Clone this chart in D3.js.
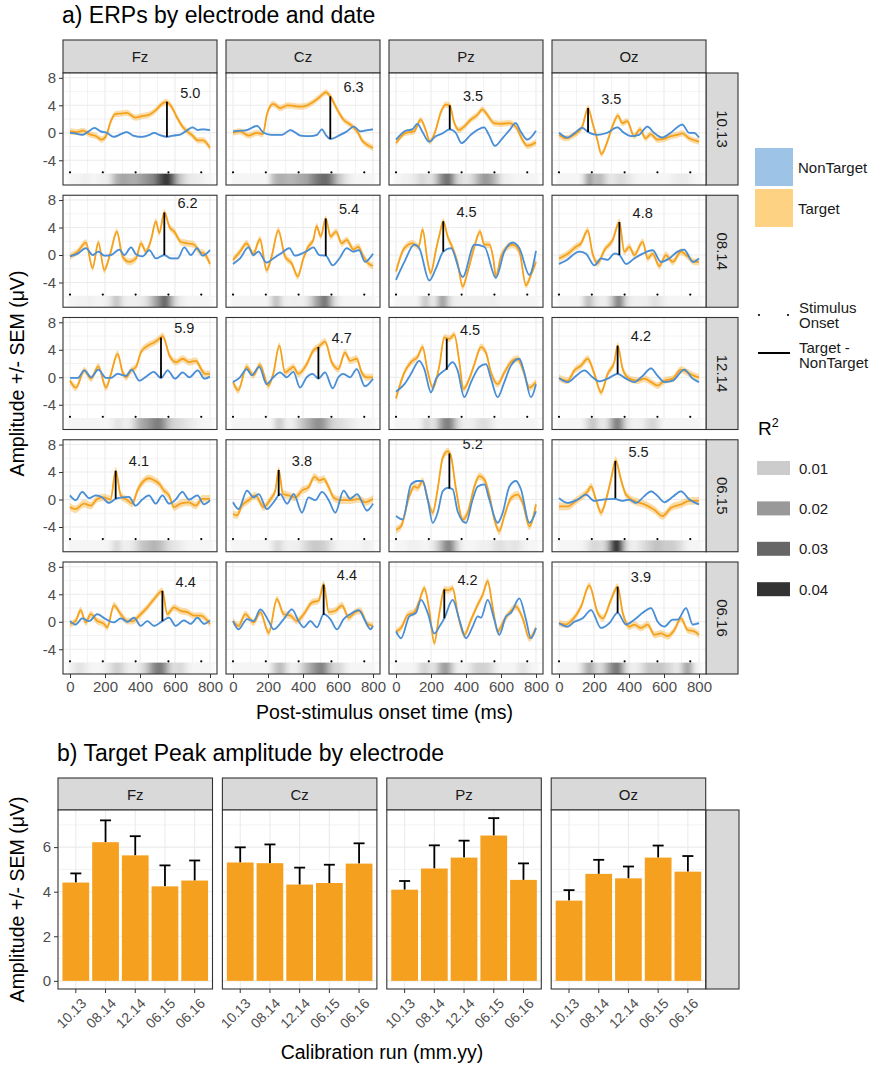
<!DOCTYPE html>
<html><head><meta charset="utf-8">
<script src="https://cdn.jsdelivr.net/npm/d3@7"></script>
<style>
body{margin:0;background:#fff}
svg{display:block}
text{font-family:"Liberation Sans",Arial,Helvetica,sans-serif}
</style>
</head><body>
<svg id="chart" width="875" height="1067"></svg>
<script>
// ---------------- DATA ----------------
const electrodes = ["Fz","Cz","Pz","Oz"];
const dates = ["10.13","08.14","12.14","06.15","06.16"];
const timeTicks = [0,200,400,600,800];
const timeMinorTicks = [100,300,500,700];
const ampTicks = [-4,0,4,8];
const ampMinorTicks = [-6,-2,2,6];
const stimulusOnsets = [0,187.5,375,562.5,750];
const r2Times = [0,25,50,75,100,125,150,175,200,225,250,275,300,325,350,375,400,425,450,475,500,525,550,575,600,625,650,675,700,725,750,775,800];
const r2LegendValues = [0.01,0.02,0.03,0.04];
const semTargetByDate = [0.45,0.5,0.5,0.55,0.5];
const semNonTarget = 0.15;

// Row 10.13
const tgt_Fz_1013 = [[0,0.2],[40,0.1],[75,0.3],[110,-0.2],[150,-0.5],[180,-1.0],[205,-0.5],[232,1.6],[258,2.7],[290,2.8],[325,2.9],[375,2.2],[405,2.4],[450,2.6],[490,3.3],[525,4.2],[550,4.5],[580,3.8],[610,2.3],[640,1.0],[670,0.2],[700,-0.4],[730,-1.1],[760,-1.1],[800,-2.2]];
const non_Fz_1013 = [[0,0.0],[30,-0.1],[70,-0.3],[100,0.1],[140,0.7],[175,0.2],[210,0.0],[250,-0.6],[290,-0.2],[325,0.1],[360,-0.4],[410,-0.6],[455,-0.3],[480,0.0],[510,-0.3],[554,-0.6],[590,-0.4],[625,-0.3],[660,0.2],[700,0.8],[730,0.4],[760,0.5],[800,0.4]];
const tgt_Cz_1013 = [[0,0.0],[40,0.2],[90,-0.4],[137,0.0],[170,-0.2],[195,2.8],[230,4.2],[270,3.6],[310,4.0],[350,3.9],[385,3.8],[425,4.0],[460,4.5],[500,5.3],[530,5.9],[556,5.3],[595,3.4],[632,1.9],[670,1.2],[710,0.2],[740,-1.2],[770,-1.8],[800,-2.2]];
const non_Cz_1013 = [[0,0.2],[50,0.3],[80,0.4],[137,1.0],[175,0.0],[220,-0.3],[280,-0.3],[328,0.4],[385,-0.4],[440,-0.5],[480,-0.3],[508,0.5],[530,-0.3],[556,-0.9],[613,-0.3],[650,0.2],[690,0.9],[728,0.2],[770,0.4],[800,0.5]];
const tgt_Pz_1013 = [[0,-1.5],[55,0.0],[103,0.2],[141,1.9],[170,0.4],[194,-1.3],[227,0.4],[255,2.9],[284,4.1],[307,4.0],[331,1.6],[360,0.4],[389,0.9],[427,1.9],[465,2.6],[493,3.4],[522,2.6],[560,1.4],[598,1.3],[646,1.4],[684,0.9],[722,-1.0],[750,-1.9],[800,-1.4]];
const non_Pz_1013 = [[0,-1.0],[55,0.3],[93,0.5],[122,1.3],[150,0.2],[189,-1.3],[227,-0.5],[265,-0.1],[307,0.5],[341,0.0],[375,-1.5],[427,-0.3],[465,0.4],[503,0.8],[531,-0.3],[565,-1.9],[608,-0.8],[646,0.3],[684,1.4],[712,0.2],[750,-1.0],[800,0.3]];
const tgt_Oz_1013 = [[0,-0.3],[38,-0.8],[86,-0.3],[133,0.9],[166,3.6],[194,1.2],[219,-1.0],[242,-3.1],[276,-1.3],[305,0.9],[337,2.5],[362,1.4],[390,1.7],[429,-0.5],[463,0.5],[495,-0.8],[524,-0.2],[562,-1.0],[600,-0.9],[638,-0.5],[676,-0.3],[705,-0.1],[743,-0.8],[800,-1.3]];
const non_Oz_1013 = [[0,0.0],[48,-0.7],[86,-0.1],[133,0.7],[166,0.1],[219,-0.3],[276,0.0],[333,0.8],[371,0.0],[410,-0.5],[457,-0.3],[505,0.9],[543,0.0],[590,-0.7],[638,0.0],[705,1.2],[743,0.0],[771,0.0],[800,-0.7]];
// Row 08.14
const tgt_Fz_0814 = [[0,-0.2],[44,0.5],[91,1.8],[129,-1.9],[162,1.8],[196,-2.2],[230,0.2],[268,3.4],[300,-0.2],[339,-1.0],[377,-0.5],[406,1.7],[434,0.5],[463,2.2],[491,4.9],[510,3.2],[539,6.2],[568,4.1],[596,3.4],[634,1.9],[672,1.7],[710,1.5],[739,0.5],[768,0.2],[800,-1.3]];
const non_Fz_0814 = [[0,-0.2],[44,0.2],[91,1.0],[130,0.0],[162,0.5],[196,-0.1],[234,0.0],[282,0.8],[310,0.0],[349,1.1],[377,0.1],[415,-0.2],[453,0.7],[491,-0.5],[539,0.0],[577,-0.5],[615,-0.5],[653,1.1],[691,0.0],[726,1.0],[758,-0.1],[800,0.7]];
const tgt_Cz_0814 = [[0,-0.7],[40,0.5],[78,1.7],[116,0.2],[154,2.3],[192,-2.2],[221,-0.2],[259,3.6],[297,-0.2],[335,-1.2],[370,-3.1],[402,-0.5],[430,1.2],[459,2.2],[478,4.2],[501,2.7],[530,5.3],[558,2.7],[589,3.4],[621,1.7],[650,2.2],[688,0.8],[716,1.2],[745,-0.2],[773,-1.2],[800,-1.6]];
const non_Cz_0814 = [[0,-1.3],[40,-0.5],[88,1.1],[116,0.0],[145,0.5],[192,-1.1],[230,-0.5],[278,0.3],[322,1.0],[354,-0.1],[392,0.2],[430,0.7],[459,1.1],[493,0.0],[530,-0.1],[570,-1.5],[608,-0.5],[650,1.0],[688,0.5],[720,0.7],[754,-1.0],[800,0.2]];
const tgt_Pz_0814 = [[0,-2.4],[48,1.0],[95,1.7],[130,1.2],[152,3.7],[181,-1.0],[198,-2.6],[229,0.8],[248,2.9],[270,4.9],[295,2.7],[324,1.0],[352,-1.2],[381,-4.6],[410,-2.4],[448,1.2],[480,3.4],[505,1.5],[533,1.5],[556,-0.5],[571,-3.1],[600,-0.2],[629,1.0],[667,1.5],[705,0.5],[743,-4.4],[771,-2.9],[800,-1.0]];
const non_Pz_0814 = [[0,-3.6],[48,-1.0],[105,1.5],[133,1.0],[190,-3.7],[229,-1.9],[270,0.5],[314,1.0],[381,-3.2],[448,1.5],[505,1.2],[571,-3.3],[619,0.5],[667,1.8],[705,1.0],[762,-2.9],[800,0.6]];
const tgt_Oz_0814 = [[0,-0.5],[50,0.2],[97,1.2],[126,1.7],[164,3.6],[192,0.2],[221,-1.2],[259,0.7],[307,2.2],[345,4.8],[373,0.5],[402,1.2],[430,0.0],[478,1.9],[507,-0.5],[535,0.2],[573,-1.6],[611,0.0],[650,-1.0],[697,0.5],[735,-0.2],[773,-1.0],[800,-1.0]];
const non_Oz_0814 = [[0,-1.3],[40,-0.8],[116,0.5],[154,0.2],[202,-1.5],[240,-0.5],[278,-0.7],[316,0.2],[345,0.0],[383,-1.3],[430,-0.5],[478,0.2],[535,0.7],[583,-1.0],[630,-0.5],[678,0.5],[716,0.8],[764,-1.0],[800,-0.5]];
// Row 12.14
const tgt_Fz_1214 = [[0,-0.5],[34,-1.5],[82,1.0],[120,-0.2],[162,1.6],[206,-1.5],[234,0.5],[272,3.4],[301,0.7],[320,0.0],[349,1.0],[377,1.5],[406,3.7],[444,4.6],[482,5.1],[505,5.5],[530,6.0],[568,3.2],[606,2.2],[644,2.7],[682,2.2],[720,2.4],[749,1.2],[771,0.5],[800,0.5]];
const non_Fz_1214 = [[0,-0.1],[44,-0.1],[82,1.0],[120,0.0],[162,1.1],[206,-0.1],[234,-0.1],[272,0.5],[320,0.2],[352,1.1],[396,-0.5],[440,0.2],[478,0.8],[520,-0.1],[558,1.0],[600,-0.2],[644,0.7],[682,0.0],[730,1.0],[768,-0.2],[800,0.1]];
const tgt_Cz_1214 = [[0,-0.7],[30,-1.9],[78,1.5],[116,0.3],[154,1.8],[202,-1.2],[230,0.5],[265,4.6],[297,0.7],[326,1.2],[345,1.5],[373,0.5],[421,1.9],[459,3.9],[488,4.4],[526,5.2],[564,2.2],[602,1.2],[640,3.6],[669,2.4],[707,2.7],[735,0.7],[764,0.0],[800,0.0]];
const non_Cz_1214 = [[0,-0.7],[40,0.0],[78,1.2],[107,0.3],[150,1.5],[192,-1.0],[230,0.0],[269,0.7],[307,0.0],[345,0.8],[383,-1.5],[421,0.0],[455,0.5],[488,-0.2],[526,0.7],[570,-1.6],[602,0.0],[630,0.5],[669,0.0],[707,1.2],[754,-1.3],[800,-0.2]];
const tgt_Pz_1214 = [[0,-3.1],[48,0.7],[86,2.2],[124,3.0],[152,4.4],[180,1.0],[210,-1.5],[248,1.7],[276,5.8],[305,5.6],[333,6.2],[362,2.2],[385,-1.7],[419,-0.2],[448,1.9],[486,4.4],[514,3.6],[543,0.7],[581,-1.0],[619,0.7],[657,2.2],[695,2.7],[724,1.2],[762,-1.5],[800,-0.7]];
const non_Pz_1214 = [[0,-2.1],[48,-1.0],[86,0.5],[133,2.4],[162,1.2],[200,-2.2],[229,-0.2],[286,1.2],[324,2.2],[352,1.0],[390,-2.9],[429,-0.7],[476,1.5],[514,1.9],[543,-0.2],[581,-2.9],[619,-0.7],[657,1.7],[705,2.7],[733,0.7],[771,-2.9],[800,-1.0]];
const tgt_Oz_1214 = [[0,-0.1],[50,-0.5],[88,1.0],[126,1.7],[164,2.7],[202,0.5],[240,-2.2],[278,0.5],[316,2.2],[335,4.6],[364,1.2],[402,-0.2],[450,-0.5],[488,-0.2],[526,-0.7],[564,-1.2],[602,-0.5],[650,-0.2],[697,1.1],[735,0.7],[773,0.2],[800,0.0]];
const non_Oz_1214 = [[0,-0.1],[50,-0.7],[97,0.2],[145,1.0],[192,0.0],[230,-0.6],[278,-0.2],[335,0.5],[383,-0.2],[430,-0.7],[478,0.2],[526,1.3],[564,0.2],[602,-0.7],[650,-0.5],[716,1.1],[764,-0.2],[800,-0.7]];
// Row 06.15
const tgt_Fz_0615 = [[0,-1.1],[32,-1.4],[80,-0.6],[118,-0.9],[156,0.1],[194,0.3],[232,0.0],[261,4.2],[290,0.6],[328,-0.1],[356,-0.6],[385,1.3],[414,2.5],[451,3.1],[480,2.8],[509,2.3],[537,1.3],[566,0.6],[594,-1.1],[632,-0.6],[680,-0.4],[718,-0.9],[756,0.1],[800,0.1]];
const non_Fz_0615 = [[0,0.6],[32,-0.1],[70,1.1],[109,0.2],[147,0.6],[185,0.3],[223,-0.5],[261,0.1],[299,0.3],[337,0.4],[375,-0.9],[413,0.0],[451,0.6],[490,-0.6],[528,0.6],[566,-0.6],[604,0.0],[642,1.1],[680,0.0],[728,0.6],[766,-0.7],[800,-0.1]];
const tgt_Cz_0615 = [[0,-2.1],[23,-2.3],[51,-0.9],[90,-0.1],[128,0.6],[175,-1.1],[213,0.0],[242,1.3],[261,4.3],[286,0.8],[318,0.6],[356,0.3],[394,1.3],[432,1.8],[465,3.3],[495,2.8],[518,3.0],[547,1.8],[575,0.3],[613,-0.1],[670,-0.1],[718,0.1],[756,-0.4],[800,0.1]];
const non_Cz_0615 = [[0,-0.4],[32,-1.4],[80,1.3],[118,0.3],[147,0.8],[194,-1.4],[232,-0.4],[270,0.8],[309,-0.6],[347,0.8],[394,-1.9],[432,0.3],[470,-0.1],[509,1.1],[547,-0.1],[585,-1.9],[632,1.3],[670,0.1],[709,0.8],[766,-1.6],[800,-0.6]];
const tgt_Pz_0615 = [[0,-4.4],[29,-3.9],[76,0.5],[105,1.9],[124,1.7],[152,2.7],[181,0.0],[210,-1.9],[238,1.5],[267,6.1],[295,7.0],[314,6.3],[343,1.5],[381,-2.9],[410,-1.9],[448,1.9],[476,3.4],[505,2.9],[533,0.7],[562,-2.9],[590,-4.6],[619,-2.4],[657,0.2],[695,0.7],[724,-0.5],[762,-3.9],[800,-0.7]];
const non_Pz_0615 = [[0,-2.4],[38,-2.9],[86,2.2],[124,2.7],[152,2.7],[181,0.0],[210,-3.4],[238,-1.9],[267,1.2],[295,1.7],[324,1.5],[352,-1.7],[400,-3.4],[438,0.0],[467,1.9],[505,2.2],[533,0.0],[581,-3.4],[610,-1.9],[648,1.9],[686,2.7],[714,1.5],[762,-3.4],[800,-1.7]];
const tgt_Oz_0615 = [[0,-1.0],[50,-1.0],[97,-0.2],[135,0.5],[164,1.2],[183,1.9],[211,0.0],[240,-1.9],[269,0.0],[297,2.9],[324,5.7],[354,2.9],[383,0.7],[430,-0.2],[488,-0.7],[545,-1.5],[592,-2.4],[640,-1.2],[697,-0.7],[745,-0.2],[800,-0.2]];
const non_Oz_0615 = [[0,0.2],[50,-0.5],[107,0.0],[154,0.7],[202,-0.2],[250,0.0],[316,0.1],[364,-0.2],[402,0.0],[440,-0.5],[488,0.5],[526,1.2],[564,0.5],[602,-0.4],[650,0.4],[697,1.2],[745,0.0],[800,-0.7]];
// Row 06.16
const tgt_Fz_0616 = [[0,-0.3],[32,0.1],[61,1.7],[90,-0.1],[118,1.1],[156,0.1],[194,-0.3],[213,-0.8],[251,2.4],[290,1.1],[328,0.1],[356,0.1],[404,1.1],[442,2.1],[480,3.3],[528,4.5],[556,1.1],[594,2.1],[632,1.6],[670,1.4],[709,0.9],[747,0.9],[800,-0.3]];
const non_Fz_0616 = [[0,0.1],[32,-0.4],[70,0.5],[109,0.1],[156,1.1],[204,0.4],[251,-0.1],[290,0.5],[328,0.0],[366,0.6],[404,-0.6],[442,0.1],[480,-0.6],[528,0.1],[566,0.6],[604,-0.6],[651,0.2],[690,-0.3],[728,0.6],[766,-0.3],[800,0.2]];
const tgt_Cz_0616 = [[0,0.1],[32,-0.6],[70,1.1],[118,-0.1],[156,1.4],[204,-1.6],[251,3.3],[290,1.1],[328,0.9],[366,0.1],[404,1.1],[451,2.8],[490,3.1],[518,5.5],[547,1.4],[585,1.6],[623,2.4],[661,0.6],[699,1.4],[728,1.6],[766,-0.3],[800,-0.6]];
const non_Cz_0616 = [[0,0.1],[32,-1.1],[80,0.4],[118,0.1],[156,1.8],[204,0.1],[232,-1.1],[290,0.4],[337,1.8],[375,0.1],[404,-0.8],[442,0.1],[480,-0.8],[518,1.1],[556,0.4],[594,-1.1],[632,0.4],[670,1.1],[718,1.7],[756,0.1],[785,-1.1],[800,-0.6]];
const tgt_Pz_0616 = [[0,-1.4],[29,-0.9],[67,1.0],[105,1.4],[133,3.0],[162,4.9],[190,1.7],[219,-3.1],[248,1.3],[276,4.7],[300,4.6],[324,4.9],[352,1.3],[390,-1.9],[429,0.3],[467,2.5],[495,3.9],[524,5.9],[552,2.2],[581,-1.4],[619,0.3],[648,1.3],[686,2.2],[724,0.5],[762,-2.4],[800,-0.9]];
const non_Pz_0616 = [[0,-1.4],[29,-2.4],[76,0.8],[114,1.3],[143,3.2],[181,1.3],[219,-1.7],[248,-0.7],[276,0.5],[324,3.2],[362,0.3],[400,-2.4],[438,-0.7],[467,0.8],[486,0.6],[524,3.2],[562,0.3],[590,-1.9],[629,0.8],[657,1.3],[705,3.4],[743,0.3],[771,-2.4],[800,-0.9]];
const tgt_Oz_0616 = [[0,-0.2],[40,-0.4],[78,0.3],[126,2.2],[173,5.3],[221,1.3],[250,0.5],[297,3.2],[335,5.1],[364,1.3],[402,-0.7],[430,-0.4],[468,-0.9],[507,-0.4],[545,-1.9],[583,-1.7],[621,-2.1],[659,-1.2],[697,0.5],[735,-1.2],[773,-1.4],[800,-1.9]];
const non_Oz_0616 = [[0,-0.2],[50,-0.7],[88,0.0],[135,0.5],[183,1.7],[240,-0.9],[288,-0.2],[335,1.3],[383,-0.4],[430,0.3],[478,1.3],[526,2.0],[564,0.0],[602,-0.7],[650,0.3],[678,0.3],[726,2.0],[764,-0.4],[800,-0.2]];

// Peak (Target - NonTarget) markers, in date order
const peakTime_Fz = [554,539,520,261,528], peakTop_Fz = [4.5,6.2,5.8,4.2,4.5], peakBottom_Fz = [-0.6,0.0,-0.1,0.1,0.1], peakLabel_Fz = ["5.0","6.2","5.9","4.1","4.4"];
const peakTime_Cz = [556,530,488,261,518], peakTop_Cz = [5.3,5.3,4.4,4.3,5.4], peakBottom_Cz = [-0.9,-0.1,-0.2,0.5,1.0], peakLabel_Cz = ["6.3","5.4","4.7","3.8","4.4"];
const peakTime_Pz = [307,270,290,305,276], peakTop_Pz = [4.0,4.9,5.6,6.7,4.7], peakBottom_Pz = [0.5,0.5,1.1,1.6,0.5], peakLabel_Pz = ["3.5","4.5","4.5","5.2","4.2"];
const peakTime_Oz = [166,345,335,322,335], peakTop_Oz = [3.6,4.8,4.6,5.6,5.1], peakBottom_Oz = [0.1,0.0,0.5,0.2,1.3], peakLabel_Oz = ["3.5","4.8","4.2","5.5","3.9"];

// R^2 per time bin (r2Times)
const r2_Fz_1013 = [0.002,0.002,0.002,0.003,0.003,0.002,0.002,0.003,0.003,0.004,0.012,0.016,0.018,0.017,0.016,0.016,0.018,0.02,0.022,0.024,0.03,0.036,0.042,0.036,0.022,0.012,0.008,0.005,0.004,0.004,0.003,0.002,0.002];
const r2_Cz_1013 = [0.002,0.002,0.002,0.002,0.002,0.002,0.002,0.002,0.002,0.012,0.015,0.016,0.015,0.014,0.015,0.016,0.017,0.018,0.022,0.026,0.028,0.03,0.028,0.02,0.012,0.008,0.005,0.003,0.002,0.002,0.002,0.002,0.002];
const r2_Pz_1013 = [0.002,0.002,0.003,0.003,0.004,0.006,0.008,0.006,0.005,0.01,0.02,0.026,0.03,0.02,0.008,0.006,0.005,0.006,0.01,0.016,0.02,0.02,0.016,0.012,0.005,0.003,0.003,0.002,0.002,0.002,0.002,0.002,0.002];
const r2_Oz_1013 = [0.002,0.002,0.002,0.002,0.002,0.002,0.01,0.022,0.012,0.014,0.012,0.006,0.004,0.006,0.007,0.006,0.005,0.003,0.002,0.002,0.002,0.002,0.002,0.002,0.002,0.002,0.003,0.004,0.004,0.004,0.003,0.002,0.002];
const r2_Fz_0814 = [0.002,0.002,0.003,0.002,0.003,0.003,0.002,0.002,0.003,0.004,0.01,0.012,0.005,0.003,0.003,0.003,0.004,0.005,0.008,0.015,0.02,0.028,0.032,0.018,0.008,0.004,0.003,0.002,0.002,0.002,0.002,0.002,0.002];
const r2_Cz_0814 = [0.002,0.002,0.002,0.002,0.002,0.002,0.002,0.002,0.002,0.008,0.014,0.006,0.003,0.003,0.003,0.003,0.003,0.005,0.01,0.018,0.022,0.03,0.02,0.008,0.004,0.002,0.002,0.002,0.002,0.002,0.002,0.002,0.002];
const r2_Pz_0814 = [0.002,0.002,0.002,0.002,0.002,0.002,0.008,0.012,0.004,0.005,0.016,0.02,0.008,0.004,0.003,0.003,0.003,0.003,0.003,0.003,0.003,0.003,0.003,0.003,0.002,0.002,0.002,0.002,0.002,0.002,0.002,0.002,0.002];
const r2_Oz_0814 = [0.002,0.002,0.002,0.002,0.002,0.002,0.01,0.014,0.006,0.004,0.003,0.004,0.01,0.022,0.026,0.01,0.004,0.003,0.003,0.003,0.003,0.005,0.006,0.005,0.003,0.002,0.002,0.002,0.002,0.002,0.002,0.002,0.002];
const r2_Fz_1214 = [0.002,0.002,0.002,0.002,0.002,0.002,0.002,0.002,0.002,0.002,0.004,0.006,0.004,0.003,0.005,0.01,0.016,0.018,0.02,0.024,0.026,0.024,0.016,0.01,0.008,0.007,0.006,0.005,0.004,0.003,0.002,0.002,0.002];
const r2_Cz_1214 = [0.002,0.002,0.002,0.002,0.002,0.002,0.002,0.002,0.002,0.002,0.01,0.01,0.004,0.003,0.004,0.008,0.012,0.015,0.018,0.022,0.022,0.018,0.012,0.008,0.007,0.006,0.005,0.004,0.003,0.002,0.002,0.002,0.002];
const r2_Pz_1214 = [0.002,0.002,0.002,0.002,0.002,0.002,0.004,0.01,0.005,0.006,0.016,0.024,0.026,0.02,0.008,0.004,0.003,0.003,0.004,0.006,0.007,0.006,0.004,0.002,0.002,0.002,0.002,0.002,0.002,0.002,0.002,0.002,0.002];
const r2_Oz_1214 = [0.002,0.002,0.002,0.002,0.002,0.002,0.004,0.01,0.012,0.006,0.004,0.006,0.016,0.026,0.024,0.01,0.004,0.003,0.003,0.003,0.006,0.008,0.008,0.004,0.002,0.002,0.002,0.002,0.002,0.002,0.002,0.002,0.002];
const r2_Fz_0615 = [0.002,0.002,0.002,0.002,0.002,0.002,0.002,0.002,0.002,0.002,0.006,0.008,0.003,0.003,0.004,0.006,0.01,0.012,0.013,0.015,0.014,0.012,0.008,0.006,0.005,0.004,0.003,0.002,0.002,0.002,0.002,0.002,0.002];
const r2_Cz_0615 = [0.002,0.002,0.002,0.002,0.002,0.002,0.002,0.002,0.002,0.004,0.008,0.006,0.003,0.003,0.003,0.003,0.006,0.008,0.01,0.011,0.01,0.009,0.006,0.004,0.002,0.002,0.002,0.002,0.002,0.002,0.003,0.003,0.002];
const r2_Pz_0615 = [0.002,0.002,0.002,0.003,0.003,0.003,0.002,0.002,0.003,0.006,0.012,0.02,0.026,0.02,0.008,0.003,0.002,0.002,0.002,0.003,0.003,0.003,0.004,0.006,0.006,0.005,0.004,0.006,0.005,0.003,0.002,0.002,0.002];
const r2_Oz_0615 = [0.002,0.002,0.002,0.002,0.002,0.002,0.003,0.006,0.008,0.007,0.006,0.012,0.03,0.045,0.035,0.012,0.004,0.003,0.004,0.006,0.008,0.01,0.012,0.012,0.01,0.01,0.01,0.008,0.006,0.003,0.002,0.002,0.002];
const r2_Fz_0616 = [0.002,0.004,0.006,0.005,0.003,0.002,0.002,0.002,0.003,0.005,0.008,0.01,0.007,0.004,0.003,0.003,0.005,0.008,0.014,0.022,0.026,0.026,0.018,0.008,0.006,0.008,0.006,0.003,0.002,0.002,0.002,0.002,0.002];
const r2_Cz_0616 = [0.002,0.002,0.002,0.002,0.002,0.002,0.002,0.002,0.002,0.006,0.012,0.014,0.008,0.003,0.003,0.004,0.01,0.014,0.018,0.022,0.026,0.022,0.014,0.008,0.008,0.006,0.003,0.002,0.002,0.002,0.002,0.002,0.002];
const r2_Pz_0616 = [0.002,0.002,0.002,0.002,0.002,0.004,0.008,0.008,0.005,0.006,0.014,0.02,0.018,0.008,0.003,0.003,0.003,0.005,0.008,0.009,0.009,0.008,0.006,0.003,0.002,0.002,0.002,0.002,0.004,0.006,0.004,0.002,0.002];
const r2_Oz_0616 = [0.002,0.002,0.002,0.002,0.002,0.005,0.012,0.018,0.012,0.006,0.008,0.016,0.022,0.028,0.024,0.01,0.004,0.003,0.004,0.006,0.01,0.012,0.01,0.012,0.01,0.008,0.006,0.004,0.008,0.018,0.016,0.004,0.002];

// Part b) bar chart
const barMean_Fz = [4.41,6.22,5.63,4.24,4.50], barSem_Fz = [0.41,0.98,0.86,0.94,0.90];
const barMean_Cz = [5.31,5.28,4.32,4.39,5.26], barSem_Cz = [0.68,0.84,0.76,0.82,0.91];
const barMean_Pz = [4.09,5.04,5.53,6.52,4.53], barSem_Pz = [0.39,1.04,0.76,0.78,0.74];
const barMean_Oz = [3.60,4.80,4.60,5.53,4.90], barSem_Oz = [0.47,0.63,0.53,0.54,0.70];
const barTicks = [0,2,4,6];
const barMinorTicks = [1,3,5,7];

// ---------------- lookups built from the arrays ----------------
const targetSeries = {
  Fz:[tgt_Fz_1013,tgt_Fz_0814,tgt_Fz_1214,tgt_Fz_0615,tgt_Fz_0616],
  Cz:[tgt_Cz_1013,tgt_Cz_0814,tgt_Cz_1214,tgt_Cz_0615,tgt_Cz_0616],
  Pz:[tgt_Pz_1013,tgt_Pz_0814,tgt_Pz_1214,tgt_Pz_0615,tgt_Pz_0616],
  Oz:[tgt_Oz_1013,tgt_Oz_0814,tgt_Oz_1214,tgt_Oz_0615,tgt_Oz_0616]};
const nonTargetSeries = {
  Fz:[non_Fz_1013,non_Fz_0814,non_Fz_1214,non_Fz_0615,non_Fz_0616],
  Cz:[non_Cz_1013,non_Cz_0814,non_Cz_1214,non_Cz_0615,non_Cz_0616],
  Pz:[non_Pz_1013,non_Pz_0814,non_Pz_1214,non_Pz_0615,non_Pz_0616],
  Oz:[non_Oz_1013,non_Oz_0814,non_Oz_1214,non_Oz_0615,non_Oz_0616]};
const r2Series = {
  Fz:[r2_Fz_1013,r2_Fz_0814,r2_Fz_1214,r2_Fz_0615,r2_Fz_0616],
  Cz:[r2_Cz_1013,r2_Cz_0814,r2_Cz_1214,r2_Cz_0615,r2_Cz_0616],
  Pz:[r2_Pz_1013,r2_Pz_0814,r2_Pz_1214,r2_Pz_0615,r2_Pz_0616],
  Oz:[r2_Oz_1013,r2_Oz_0814,r2_Oz_1214,r2_Oz_0615,r2_Oz_0616]};
const peaks = {
  Fz:{t:peakTime_Fz,top:peakTop_Fz,bot:peakBottom_Fz,lab:peakLabel_Fz},
  Cz:{t:peakTime_Cz,top:peakTop_Cz,bot:peakBottom_Cz,lab:peakLabel_Cz},
  Pz:{t:peakTime_Pz,top:peakTop_Pz,bot:peakBottom_Pz,lab:peakLabel_Pz},
  Oz:{t:peakTime_Oz,top:peakTop_Oz,bot:peakBottom_Oz,lab:peakLabel_Oz}};
const bars = {
  Fz:{m:barMean_Fz,s:barSem_Fz}, Cz:{m:barMean_Cz,s:barSem_Cz},
  Pz:{m:barMean_Pz,s:barSem_Pz}, Oz:{m:barMean_Oz,s:barSem_Oz}};

// ---------------- STYLE / LAYOUT ----------------
const C = {
  target:"#F5A11C", targetRibbon:"#F7B443", non:"#4A8FD6", nonRibbon:"#6FA3DD",
  bar:"#F5A11F", grid:"#EBEBEB", border:"#333333", strip:"#D9D9D9",
  tick:"#4D4D4D", text:"#1A1A1A",
  keyNon:"#9DC3E6", keyTarget:"#FDD283"
};
const FS = {title:23, axisTitle:19.5, tick:15, strip:15, legend:15, peak:14.5, barTick:14};
const r2Color = d3.scaleLinear().domain([0,0.05]).range(["#ffffff","#000000"]).clamp(true);

const svg = d3.select("#chart");
const defs = svg.append("defs");
defs.append("filter").attr("id","hblur").attr("x","-0.05").attr("y","0").attr("width","1.1").attr("height","1")
  .append("feGaussianBlur").attr("stdDeviation","2.5 0");

const colLeftA = [63,226,389,552], panelW = 154;
const rowTopA = [73,195.25,317.5,439.75,562], panelH = 112;
const timeDomain = [-40,840], ampDomain = [-7.6,8.7];

// Title a)
svg.append("text").attr("x",62).attr("y",23).attr("font-size",FS.title).attr("fill","#000")
  .text("a) ERPs by electrode and date");

// column strips top
electrodes.forEach((el,ci)=>{
  const left = colLeftA[ci];
  svg.append("rect").attr("x",left).attr("y",40).attr("width",panelW).attr("height",33)
    .attr("fill",C.strip).attr("stroke",C.border).attr("stroke-width",1.1);
  svg.append("text").attr("x",left+panelW/2).attr("y",56.5).attr("text-anchor","middle")
    .attr("dominant-baseline","central").attr("font-size",FS.strip).attr("fill",C.text).text(el);
});
// row strips
dates.forEach((dt,ri)=>{
  const top = rowTopA[ri];
  svg.append("rect").attr("x",706).attr("y",top).attr("width",32).attr("height",panelH)
    .attr("fill",C.strip).attr("stroke",C.border).attr("stroke-width",1.1);
  svg.append("text").attr("transform",`translate(722,${top+panelH/2}) rotate(90)`)
    .attr("text-anchor","middle").attr("dominant-baseline","central").attr("font-size",FS.strip)
    .attr("fill",C.text).text(dt);
});

electrodes.forEach((el,ci)=>{
  dates.forEach((dt,ri)=>{
    const left = colLeftA[ci], top = rowTopA[ri];
    const x = d3.scaleLinear().domain(timeDomain).range([left,left+panelW]);
    const y = d3.scaleLinear().domain(ampDomain).range([top+panelH,top]);
    const g = svg.append("g");
    const clipId = `clipA-${ci}-${ri}`;
    defs.append("clipPath").attr("id",clipId).append("rect")
      .attr("x",left).attr("y",top).attr("width",panelW).attr("height",panelH);
    g.append("rect").attr("x",left).attr("y",top).attr("width",panelW).attr("height",panelH).attr("fill","#fff");
    // grid
    const grid = g.append("g").attr("stroke",C.grid);
    timeMinorTicks.forEach(t=>grid.append("line").attr("x1",x(t)).attr("x2",x(t)).attr("y1",top).attr("y2",top+panelH).attr("stroke-width",0.6));
    ampMinorTicks.forEach(v=>grid.append("line").attr("x1",left).attr("x2",left+panelW).attr("y1",y(v)).attr("y2",y(v)).attr("stroke-width",0.6));
    timeTicks.forEach(t=>grid.append("line").attr("x1",x(t)).attr("x2",x(t)).attr("y1",top).attr("y2",top+panelH).attr("stroke-width",1.1));
    ampTicks.forEach(v=>grid.append("line").attr("x1",left).attr("x2",left+panelW).attr("y1",y(v)).attr("y2",y(v)).attr("stroke-width",1.1));

    const c = g.append("g").attr("clip-path",`url(#${clipId})`);
    // R^2 tiles
    const tiles = c.append("g").attr("filter","url(#hblur)");
    const r2 = r2Series[el][ri];
    tiles.selectAll("rect").data(r2Times.map((t,i)=>({t, r:r2[i]}))).join("rect")
      .attr("x",d=>x(d.t-12.5)).attr("width",d=>x(d.t+12.5)-x(d.t-12.5)+0.5)
      .attr("y",y(-5.95)).attr("height",y(-7.6)-y(-5.95))
      .attr("fill",d=>r2Color(d.r));
    // stimulus dots
    c.selectAll("circle.stim").data(stimulusOnsets).join("circle").attr("class","stim")
      .attr("cx",d=>x(d)).attr("cy",y(-5.75)).attr("r",1.1).attr("fill","#000");
    // ribbons & lines
    const tgt = targetSeries[el][ri], non = nonTargetSeries[el][ri];
    const semT = semTargetByDate[ri];
    const area = (sem)=>d3.area().curve(d3.curveMonotoneX).x(d=>x(d[0])).y0(d=>y(d[1]-sem)).y1(d=>y(d[1]+sem));
    const line = d3.line().curve(d3.curveMonotoneX).x(d=>x(d[0])).y(d=>y(d[1]));
    c.append("path").attr("d",area(semNonTarget)(non)).attr("fill",C.nonRibbon).attr("opacity",0.35);
    c.append("path").attr("d",area(semT)(tgt)).attr("fill",C.targetRibbon).attr("opacity",0.45);
    c.append("path").attr("d",line(tgt)).attr("fill","none").attr("stroke",C.target).attr("stroke-width",1.8);
    c.append("path").attr("d",line(non)).attr("fill","none").attr("stroke",C.non).attr("stroke-width",1.8);
    // peak
    const p = peaks[el];
    c.append("line").attr("x1",x(p.t[ri])).attr("x2",x(p.t[ri])).attr("y1",y(p.top[ri])).attr("y2",y(p.bot[ri]))
      .attr("stroke","#000").attr("stroke-width",1.8);
    c.append("text").attr("x",x(p.t[ri]+133)).attr("y",y(p.top[ri]+1.35)).attr("text-anchor","middle")
      .attr("dominant-baseline","central").attr("font-size",FS.peak).attr("fill","#1a1a1a").text(p.lab[ri]);
    // border
    g.append("rect").attr("x",left).attr("y",top).attr("width",panelW).attr("height",panelH)
      .attr("fill","none").attr("stroke",C.border).attr("stroke-width",1.1);
    // axes
    if(ci===0){
      const ax = g.append("g").attr("transform",`translate(${left},0)`)
        .call(d3.axisLeft(y).tickValues(ampTicks).tickSize(4).tickPadding(3).tickFormat(d=>String(d)));
      ax.select(".domain").remove();
      ax.selectAll("line").attr("stroke",C.border);
      ax.selectAll("text").attr("font-size",FS.tick).attr("fill",C.tick).attr("font-family",null);
    }
    if(ri===dates.length-1){
      const ax = g.append("g").attr("transform",`translate(0,${top+panelH})`)
        .call(d3.axisBottom(x).tickValues(timeTicks).tickSize(4).tickPadding(3).tickFormat(d=>String(d)));
      ax.select(".domain").remove();
      ax.selectAll("line").attr("stroke",C.border);
      ax.selectAll("text").attr("font-size",FS.tick).attr("fill",C.tick).attr("font-family",null);
    }
  });
});

// axis titles (a)
svg.append("text").attr("transform",`translate(24,${(73+674)/2}) rotate(-90)`).attr("text-anchor","middle")
  .attr("font-size",FS.axisTitle).attr("fill","#000").text("Amplitude +/- SEM (μV)");
svg.append("text").attr("x",(63+706)/2).attr("y",719).attr("text-anchor","middle")
  .attr("font-size",FS.axisTitle).attr("fill","#000").text("Post-stimulus onset time (ms)");

// legend (a)
const lg = svg.append("g");
lg.append("rect").attr("x",755).attr("y",148).attr("width",38).attr("height",38).attr("fill",C.keyNon);
lg.append("text").attr("x",798).attr("y",167).attr("dominant-baseline","central").attr("font-size",FS.legend).attr("fill",C.text).text("NonTarget");
lg.append("rect").attr("x",755).attr("y",189).attr("width",38).attr("height",38).attr("fill",C.keyTarget);
lg.append("text").attr("x",798).attr("y",208).attr("dominant-baseline","central").attr("font-size",FS.legend).attr("fill",C.text).text("Target");
[759,788].forEach(cx=>lg.append("circle").attr("cx",cx).attr("cy",315).attr("r",1.1).attr("fill","#000"));
lg.append("text").attr("x",799).attr("y",307).attr("dominant-baseline","central").attr("font-size",FS.legend).attr("fill",C.text).text("Stimulus");
lg.append("text").attr("x",799).attr("y",322.5).attr("dominant-baseline","central").attr("font-size",FS.legend).attr("fill",C.text).text("Onset");
lg.append("line").attr("x1",758).attr("x2",790).attr("y1",353).attr("y2",353).attr("stroke","#000").attr("stroke-width",2);
lg.append("text").attr("x",799).attr("y",347.5).attr("dominant-baseline","central").attr("font-size",FS.legend).attr("fill",C.text).text("Target -");
lg.append("text").attr("x",799).attr("y",362.5).attr("dominant-baseline","central").attr("font-size",FS.legend).attr("fill",C.text).text("NonTarget");
const r2t = lg.append("text").attr("x",758).attr("y",435).attr("font-size",19).attr("fill","#000");
r2t.append("tspan").text("R");
r2t.append("tspan").attr("font-size",12.5).attr("dy",-8).text("2");
r2LegendValues.forEach((v,i)=>{
  const yy = 461 + i*40.4;
  lg.append("rect").attr("x",757).attr("y",yy).attr("width",33).attr("height",14).attr("fill",r2Color(v));
  lg.append("text").attr("x",799).attr("y",yy+7).attr("dominant-baseline","central").attr("font-size",FS.legend).attr("fill",C.text).text(v.toFixed(2));
});

// ---------------- PART b) ----------------
svg.append("text").attr("x",57).attr("y",761).attr("font-size",FS.title).attr("fill","#000")
  .text("b) Target Peak amplitude by electrode");
const colLeftB = [58,222.4,386.8,551.2], panelWB = 154.5;
const topB = 810, heightB = 179;
const yB = d3.scaleLinear().domain([-0.365,7.665]).range([topB+heightB,topB]);

electrodes.forEach((el,ci)=>{
  const left = colLeftB[ci];
  const xB = d3.scaleBand().domain(dates).range([left,left+panelWB]).paddingInner(0.1).paddingOuter(0.15);
  const g = svg.append("g");
  // strip
  g.append("rect").attr("x",left).attr("y",778).attr("width",panelWB).attr("height",32)
    .attr("fill",C.strip).attr("stroke",C.border).attr("stroke-width",1.1);
  g.append("text").attr("x",left+panelWB/2).attr("y",794).attr("text-anchor","middle")
    .attr("dominant-baseline","central").attr("font-size",FS.strip).attr("fill",C.text).text(el);
  g.append("rect").attr("x",left).attr("y",topB).attr("width",panelWB).attr("height",heightB).attr("fill","#fff");
  const grid = g.append("g").attr("stroke",C.grid);
  barMinorTicks.forEach(v=>grid.append("line").attr("x1",left).attr("x2",left+panelWB).attr("y1",yB(v)).attr("y2",yB(v)).attr("stroke-width",0.6));
  barTicks.forEach(v=>grid.append("line").attr("x1",left).attr("x2",left+panelWB).attr("y1",yB(v)).attr("y2",yB(v)).attr("stroke-width",1.1));
  dates.forEach(d=>grid.append("line").attr("x1",xB(d)+xB.bandwidth()/2).attr("x2",xB(d)+xB.bandwidth()/2).attr("y1",topB).attr("y2",topB+heightB).attr("stroke-width",1.1));
  const b = bars[el];
  const rows = dates.map((d,i)=>({d, m:b.m[i], s:b.s[i]}));
  // error bars (upper half)
  rows.forEach(r=>{
    const cx = xB(r.d)+xB.bandwidth()/2;
    g.append("line").attr("x1",cx).attr("x2",cx).attr("y1",yB(r.m)).attr("y2",yB(r.m+r.s)).attr("stroke","#000").attr("stroke-width",1.8);
    g.append("line").attr("x1",cx-5.5).attr("x2",cx+5.5).attr("y1",yB(r.m+r.s)).attr("y2",yB(r.m+r.s)).attr("stroke","#000").attr("stroke-width",1.8);
  });
  g.selectAll("rect.bar").data(rows).join("rect").attr("class","bar")
    .attr("x",r=>xB(r.d)).attr("width",xB.bandwidth())
    .attr("y",r=>yB(r.m)).attr("height",r=>yB(0)-yB(r.m)).attr("fill",C.bar);
  g.append("rect").attr("x",left).attr("y",topB).attr("width",panelWB).attr("height",heightB)
    .attr("fill","none").attr("stroke",C.border).attr("stroke-width",1.1);
  if(ci===0){
    const ax = g.append("g").attr("transform",`translate(${left},0)`)
      .call(d3.axisLeft(yB).tickValues(barTicks).tickSize(4).tickPadding(3).tickFormat(d=>String(d)));
    ax.select(".domain").remove();
    ax.selectAll("line").attr("stroke",C.border);
    ax.selectAll("text").attr("font-size",FS.tick).attr("fill",C.tick).attr("font-family",null);
  }
  // x ticks with rotated labels
  const ax = g.append("g").attr("transform",`translate(0,${topB+heightB})`)
    .call(d3.axisBottom(xB).tickSize(4).tickSizeOuter(0));
  ax.select(".domain").remove();
  ax.selectAll("line").attr("stroke",C.border);
  ax.selectAll("text").attr("font-size",FS.barTick).attr("fill",C.tick).attr("font-family",null)
    .attr("text-anchor","end").attr("dy",null).attr("y",null)
    .attr("transform","translate(4,8) rotate(-45)")
    .attr("dominant-baseline","hanging");
});
// right empty strip
svg.append("rect").attr("x",706).attr("y",topB).attr("width",33).attr("height",heightB)
  .attr("fill",C.strip).attr("stroke",C.border).attr("stroke-width",1.1);
svg.append("text").attr("transform",`translate(24,${topB+heightB/2}) rotate(-90)`).attr("text-anchor","middle")
  .attr("font-size",FS.axisTitle).attr("fill","#000").text("Amplitude +/- SEM (μV)");
svg.append("text").attr("x",(58+706)/2).attr("y",1059).attr("text-anchor","middle")
  .attr("font-size",FS.axisTitle).attr("fill","#000").text("Calibration run (mm.yy)");
</script>
</body></html>
